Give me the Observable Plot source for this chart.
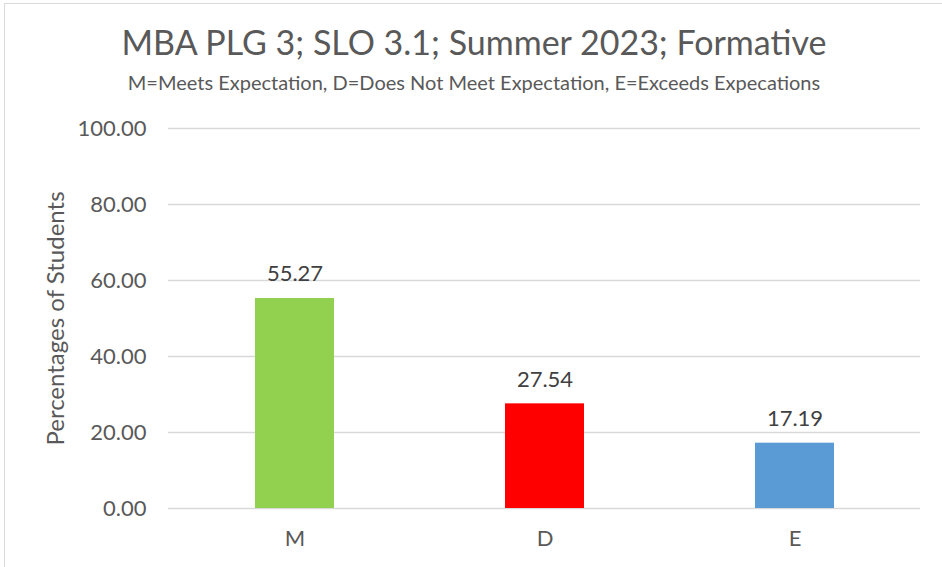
<!DOCTYPE html>
<html>
<head>
<meta charset="utf-8">
<script src="https://cdn.jsdelivr.net/npm/d3@7"></script>
<script src="https://cdn.jsdelivr.net/npm/@observablehq/plot@0.6"></script>
<style>
  html, body { margin: 0; padding: 0; background: #fff; }
  body { width: 942px; height: 567px; overflow: hidden; position: relative; font-family: Lato, "Open Sans", sans-serif; }
  #frame { position: absolute; left: 4px; top: 3px; width: 960px; height: 600px; border-left: 1.5px solid #d9d9d9; border-top: 1.5px solid #d9d9d9; }
  #title { position: absolute; left: 4px; width: 940px; top: 25px; text-align: center; font-size: 34px; color: #595959; line-height: 1; white-space: nowrap; }
  #subtitle { position: absolute; left: 4px; width: 940px; top: 72px; text-align: center; font-size: 20px; color: #595959; line-height: 1; white-space: nowrap; }
  #chart { position: absolute; left: 0; top: 100px; }
</style>
</head>
<body>
<div id="frame"></div>
<div id="title"></div>
<div id="subtitle"></div>
<div id="chart"></div>
<script>
const titleText = "MBA PLG 3; SLO 3.1; Summer 2023; Formative";
const subtitleText = "M=Meets Expectation, D=Does Not Meet Expectation, E=Exceeds Expecations";
const yLabel = "Percentages of Students";
const categories = ["M", "D", "E"];
const values = [55.27, 27.54, 17.19];
const colors = ["#92d050", "#ff0000", "#5b9bd5"];
const yTicks = [0, 20, 40, 60, 80, 100];

document.getElementById("title").textContent = titleText;
document.getElementById("subtitle").textContent = subtitleText;

const data = categories.map((c, i) => ({cat: c, value: values[i], color: colors[i]}));

const chart = Plot.plot({
  width: 942,
  height: 467,
  marginTop: 28,
  marginBottom: 59,
  marginLeft: 168,
  marginRight: 22,
  style: {fontFamily: "Lato, 'Open Sans', sans-serif", fontSize: "22px", color: "#595959", background: "transparent"},
  x: {domain: categories, paddingInner: 0.685, paddingOuter: 0.3425, label: null},
  y: {domain: [0, 100], label: null},
  marks: [
    Plot.gridY(yTicks, {stroke: "#d9d9d9", strokeOpacity: 1, strokeWidth: 1.5}),
    Plot.barY(data, {x: "cat", y: "value", fill: "color"}),
    Plot.text(data, {x: "cat", y: "value", text: d => d3.format(".2f")(d.value), lineAnchor: "bottom", dy: -17, fill: "#404040", fontSize: 22}),
    Plot.axisY({ticks: yTicks, tickFormat: d3.format(".2f"), tickSize: 0, tickPadding: 22, fontSize: 22, fill: "#595959", label: null}),
    Plot.axisY({ticks: [], tickSize: 0, label: yLabel, labelAnchor: "center", labelArrow: "none", labelOffset: 122, fontSize: 24, fill: "#595959"}),
    Plot.axisX({tickSize: 0, tickPadding: 22, fontSize: 22, fill: "#595959", label: null})
  ]
});
document.getElementById("chart").appendChild(chart);
</script>
</body>
</html>
